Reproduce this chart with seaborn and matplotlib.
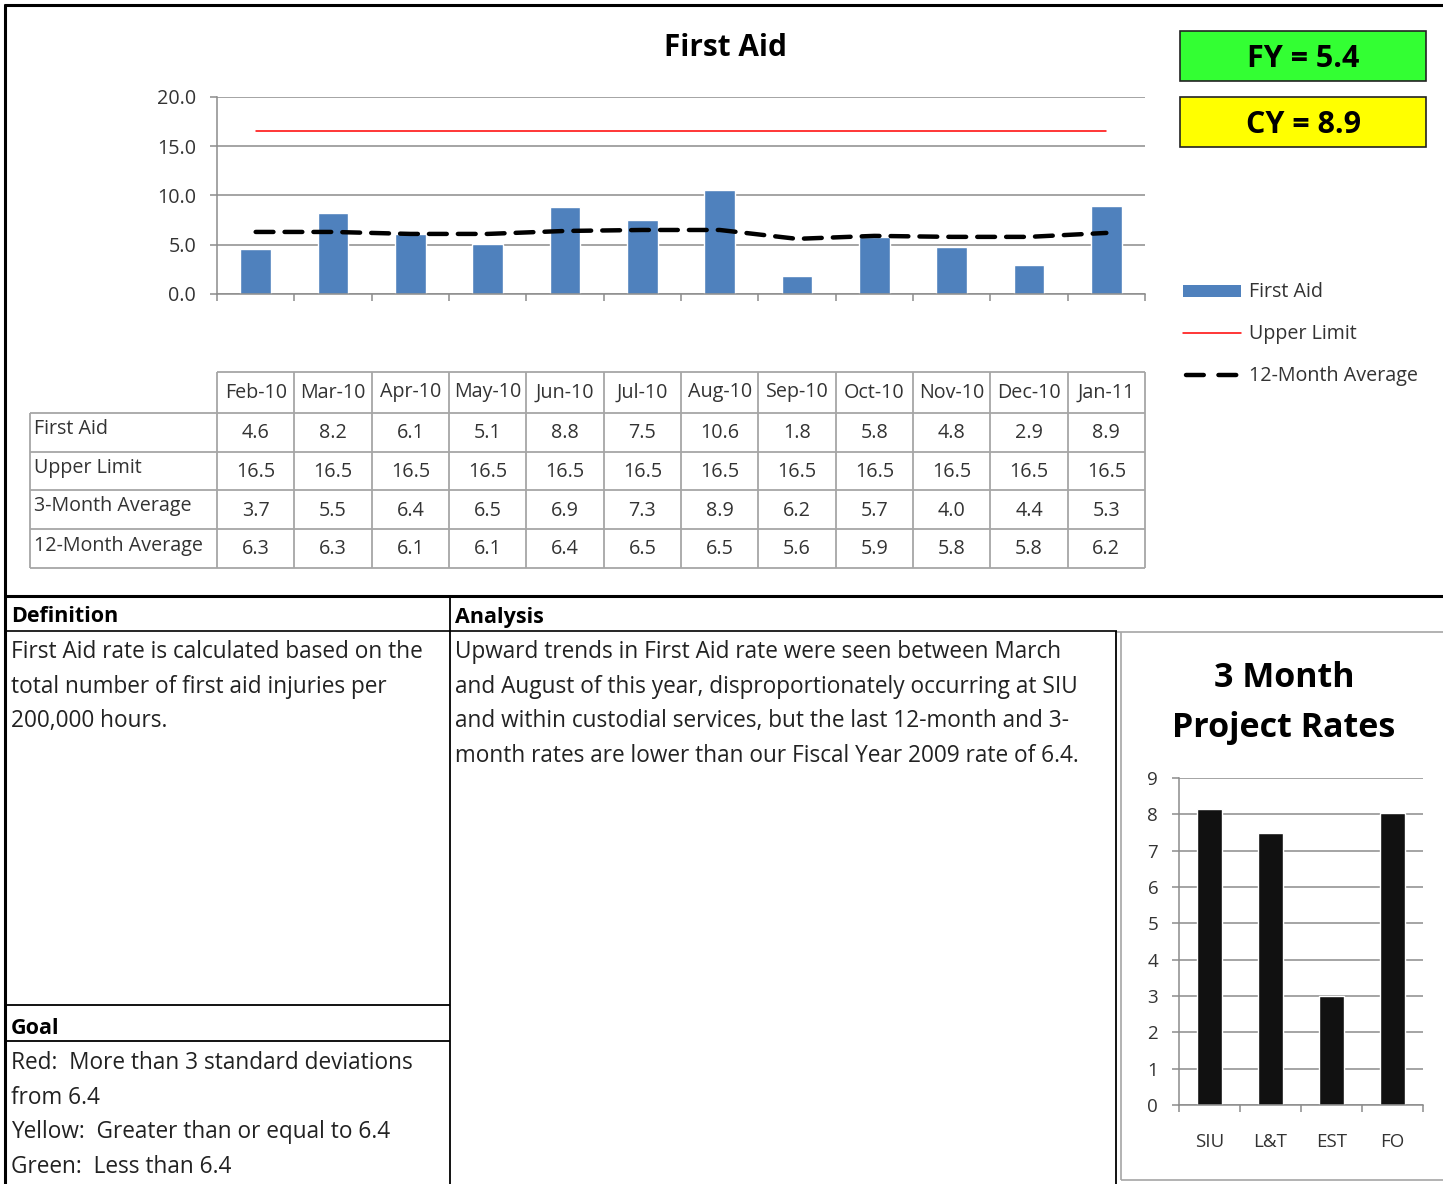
"""First Aid dashboard: monthly rate chart, data table and 3 month project rates."""
import matplotlib
matplotlib.use("Agg")
import matplotlib.pyplot as plt
import matplotlib.patches as mpatches
import numpy as np
import seaborn as sns

# data
months = ["Feb-10", "Mar-10", "Apr-10", "May-10", "Jun-10", "Jul-10",
          "Aug-10", "Sep-10", "Oct-10", "Nov-10", "Dec-10", "Jan-11"]
first_aid = [4.6, 8.2, 6.1, 5.1, 8.8, 7.5, 10.6, 1.8, 5.8, 4.8, 2.9, 8.9]
upper_limit = [16.5] * 12
avg_3m = [3.7, 5.5, 6.4, 6.5, 6.9, 7.3, 8.9, 6.2, 5.7, 4.0, 4.4, 5.3]
avg_12m = [6.3, 6.3, 6.1, 6.1, 6.4, 6.5, 6.5, 5.6, 5.9, 5.8, 5.8, 6.2]
row_labels = ["First Aid", "Upper Limit", "3-Month Average", "12-Month Average"]

projects = ["SIU", "L&T", "EST", "FO"]
project_rates = [8.15, 7.5, 3.0, 8.05]

fy_text = "FY = 5.4"
cy_text = "CY = 8.9"

definition = ["First Aid rate is calculated based on the",
              "total number of first aid injuries per",
              "200,000 hours."]
analysis = ["Upward trends in First Aid rate were seen between March",
            "and August of this year, disproportionately occurring at SIU",
            "and within custodial services, but the last 12-month and 3-",
            "month rates are lower than our Fiscal Year 2009 rate of 6.4."]
goal = ["Red:  More than 3 standard deviations",
        "from 6.4",
        "Yellow:  Greater than or equal to 6.4",
        "Green:  Less than 6.4"]

sns.set_theme(style="white")
plt.rcParams["font.family"] = ["Open Sans", "DejaVu Sans"]

W, H = 1443, 1184
fig = plt.figure(figsize=(W / 100, H / 100), dpi=100)

# font sizes
FS_BODY = 16.3
FS_SMALL = 14.2
FS_TICK2 = 13.5
FS_HEAD = 15.5

# overlay in pixel coordinates for frames, table and text
ov = fig.add_axes([0, 0, 1, 1])
ov.set_xlim(0, W)
ov.set_ylim(H, 0)
ov.axis("off")


def hline(y, x0, x1, lw=1.0, color="black"):
    ov.plot([x0, x1], [y, y], color=color, lw=lw, solid_capstyle="butt")


def vline(x, y0, y1, lw=1.0, color="black"):
    ov.plot([x, x], [y0, y1], color=color, lw=lw, solid_capstyle="butt")


def px_axes(x0, y0, x1, y1):
    return fig.add_axes([x0 / W, 1 - y1 / H, (x1 - x0) / W, (y1 - y0) / H])


# outer frame
hline(5, 4, W, lw=2.2)
vline(5, 4, H, lw=2.2)

# ---- main chart ----
AX0, AX1, AY0, AY1 = 217, 1145, 97, 294
ax = px_axes(AX0, AY0, AX1, AY1)
ax.set_facecolor("none")
pos = np.arange(len(months))
sns.barplot(x=months, y=first_aid, color="#4F81BD", saturation=1,
            width=0.4, ax=ax, zorder=2)
ax.plot(pos, upper_limit, color="#FF0000", lw=1.1, zorder=3)
ax.plot(pos, avg_12m, color="black", lw=3.2, dashes=(4, 2.5),
        dash_capstyle="round", zorder=4)
ax.set_xlim(-0.5, len(months) - 0.5)
ax.set_ylim(0, 20)
ax.set_yticks(np.arange(0, 20.1, 5))
ax.set_yticklabels([f"{v:.1f}" for v in np.arange(0, 20.1, 5)],
                   fontsize=FS_SMALL, color="#333333")
ax.set_xticks(np.arange(-0.5, len(months), 1))
ax.set_xticklabels([])
ax.set_xlabel("")
ax.set_ylabel("")
ax.yaxis.grid(True, color="#8c8c8c", lw=1.1)
ax.set_axisbelow(True)
for s in ["top", "right"]:
    ax.spines[s].set_visible(False)
for s in ["left", "bottom"]:
    ax.spines[s].set_color("#8c8c8c")
    ax.spines[s].set_linewidth(1.1)
ax.tick_params(axis="both", which="major", length=5, width=1.1,
               color="#8c8c8c", direction="out", left=True, bottom=True)
ax.tick_params(axis="y", pad=10)

ov.text(726, 48, "First Aid", ha="center", va="center", fontsize=21.4,
        fontweight="bold", color="black")

# FY / CY boxes
for (y0, txt, col) in [(31, fy_text, "#33FF33"), (97, cy_text, "#FFFF00")]:
    ov.add_patch(mpatches.Rectangle((1180, y0), 246, 50, facecolor=col,
                                    edgecolor="#222222", lw=1.2))
    ov.text(1303, y0 + 28, txt, ha="center", va="center", fontsize=22,
            fontweight="bold", color="black")

# legend
ov.add_patch(mpatches.Rectangle((1183, 285), 58, 12, facecolor="#4F81BD",
                                edgecolor="none"))
ov.plot([1183, 1241], [333, 333], color="#FF0000", lw=1.1)
ov.plot([1186, 1236.5], [375, 375], color="black", lw=3.2, dashes=(4, 3.3),
        dash_capstyle="round")
for y, lab in [(292, "First Aid"), (334, "Upper Limit"), (376, "12-Month Average")]:
    ov.text(1249, y, lab, ha="left", va="center", fontsize=FS_SMALL,
            color="#333333")

# ---- data table ----
col_w = (AX1 - AX0) / len(months)
col_edges = [AX0 + i * col_w for i in range(len(months) + 1)]
row_edges = [372, 413, 452, 490, 529, 568]
LAB0 = 30
gcol = "#a6a6a6"
hline(row_edges[0], AX0, AX1, lw=1.3, color=gcol)
for y in row_edges[1:]:
    hline(y, LAB0, AX1, lw=1.3, color=gcol)
vline(LAB0, row_edges[1], row_edges[-1], lw=1.3, color=gcol)
for x in col_edges:
    vline(x, row_edges[0], row_edges[-1], lw=1.3, color=gcol)
for i, m in enumerate(months):
    cx = col_edges[i] + col_w / 2
    ov.text(cx, (row_edges[0] + row_edges[1]) / 2, m, ha="center",
            va="center", fontsize=FS_SMALL, color="#333333")
table_rows = [first_aid, upper_limit, avg_3m, avg_12m]
for r, (lab, vals) in enumerate(zip(row_labels, table_rows)):
    y0, y1 = row_edges[r + 1], row_edges[r + 2]
    ov.text(34, (y0 + y1) / 2 - 3, lab, ha="left", va="center",
            fontsize=FS_SMALL, color="#333333")
    for i, v in enumerate(vals):
        cx = col_edges[i] + col_w / 2
        ov.text(cx, (y0 + y1) / 2 + 1, f"{v:.1f}", ha="center", va="center",
                fontsize=FS_SMALL, color="#333333")

# ---- bottom section frames ----
hline(596, 4, W, lw=2.2)
vline(450, 596, H, lw=1.3)
hline(631, 4, 1117, lw=1.2)
hline(632, 1117, W, lw=1.2, color="#a6a6a6")
vline(1116, 631, H, lw=1.3)
vline(1121, 632, 1180, lw=1.2, color="#a6a6a6")
hline(1180, 1121, W, lw=1.2, color="#a6a6a6")
hline(1005, 4, 450, lw=1.3)
hline(1041, 4, 450, lw=1.3)

ov.text(11, 617, "Definition", ha="left", va="center", fontsize=FS_HEAD,
        fontweight="bold", color="black")
ov.text(455, 617, "Analysis", ha="left", va="center", fontsize=FS_HEAD,
        fontweight="bold", color="black")
ov.text(11, 1028, "Goal", ha="left", va="center", fontsize=FS_HEAD,
        fontweight="bold", color="black")

line_step = 34.6
for i, t in enumerate(definition):
    ov.text(11, 652 + i * line_step, t, ha="left", va="center",
            fontsize=FS_BODY, color="#222222")
for i, t in enumerate(analysis):
    ov.text(455, 652 + i * line_step, t, ha="left", va="center",
            fontsize=FS_BODY, color="#222222")
for i, t in enumerate(goal):
    ov.text(11, 1063 + i * line_step, t, ha="left", va="center",
            fontsize=FS_BODY, color="#222222")

# ---- 3 month project rates ----
ov.text(1284, 678, "3 Month", ha="center", va="center", fontsize=24.5,
        fontweight="bold", color="black")
ov.text(1284, 728, "Project Rates", ha="center", va="center", fontsize=24.5,
        fontweight="bold", color="black")

ax2 = px_axes(1179, 778, 1423, 1105)
ax2.set_facecolor("none")
sns.barplot(x=projects, y=project_rates, color="#111111", saturation=1,
            width=0.4, ax=ax2, zorder=2)
ax2.set_xlim(-0.5, len(projects) - 0.5)
ax2.set_ylim(0, 9)
ax2.set_yticks(range(0, 10))
ax2.set_yticklabels([str(v) for v in range(0, 10)], fontsize=FS_TICK2,
                    color="#333333")
ax2.set_xticks(np.arange(len(projects)))
ax2.set_xticklabels(projects, fontsize=FS_TICK2, color="#333333")
ax2.set_xticks(np.arange(-0.5, len(projects), 1), minor=True)
ax2.set_xlabel("")
ax2.set_ylabel("")
ax2.yaxis.grid(True, color="#8c8c8c", lw=1.1)
ax2.set_axisbelow(True)
for s in ["top", "right"]:
    ax2.spines[s].set_visible(False)
for s in ["left", "bottom"]:
    ax2.spines[s].set_color("#8c8c8c")
    ax2.spines[s].set_linewidth(1.1)
ax2.tick_params(axis="x", which="major", length=0, pad=20)
ax2.tick_params(axis="x", which="minor", length=5, width=1.1,
                color="#8c8c8c", bottom=True)
ax2.tick_params(axis="y", length=5, width=1.1, color="#8c8c8c", left=True,
                pad=10)

fig.savefig("out.png", dpi=100, facecolor="white")
